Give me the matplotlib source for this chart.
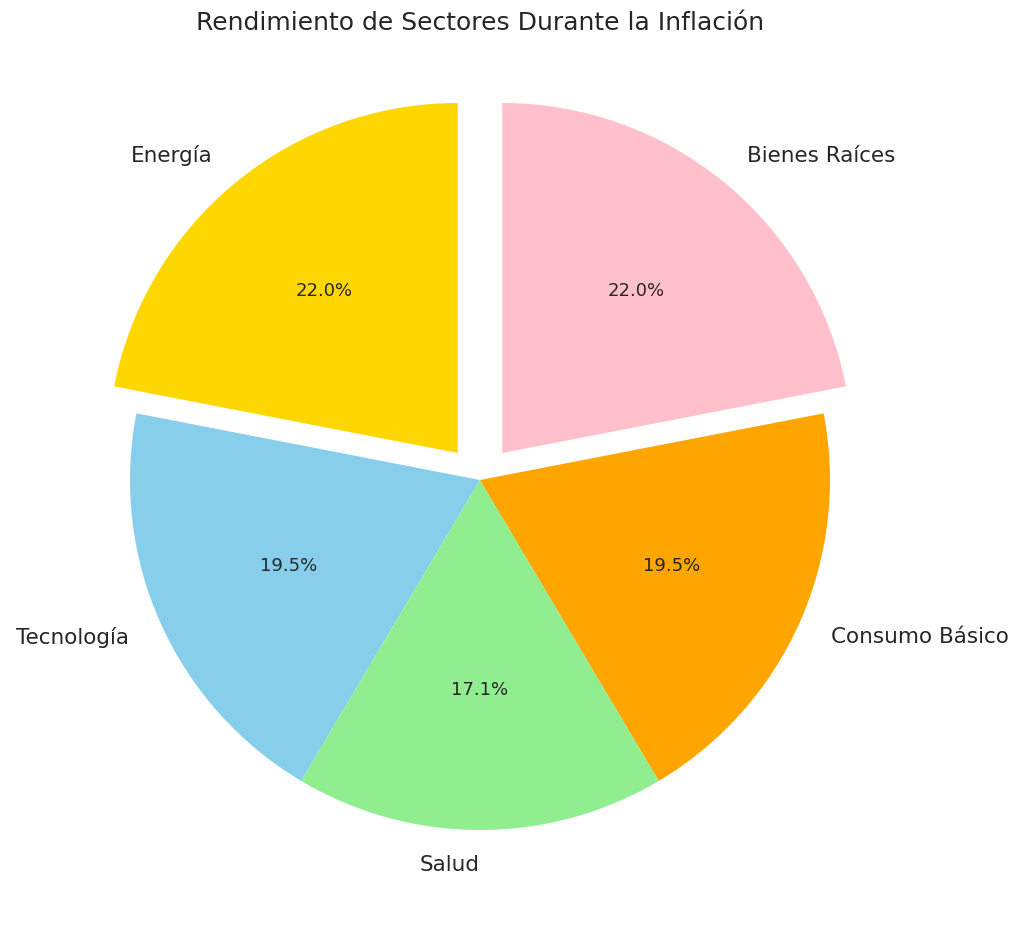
import matplotlib
matplotlib.use('Agg')
import matplotlib.pyplot as plt

sectors = ['Energía', 'Tecnología', 'Salud', 'Consumo Básico', 'Bienes Raíces']
values = [9, 8, 7, 8, 9]
colors = ['gold', 'skyblue', 'lightgreen', 'orange', 'pink']
explode = [0.1, 0, 0, 0, 0.1]

txt = '#262626'
scale = 350.0  # pixels per unit of pie radius
cx, cy = 480.0, 480.0  # pie centre in pixels (from top-left)
W, H = 1024, 932

fig = plt.figure(figsize=(W / 100, H / 100), dpi=100)
ax = fig.add_axes([0, 0, 1, 1])
wedges, labels, pcts = ax.pie(values, labels=sectors, colors=colors, explode=explode,
                              autopct='%1.1f%%', startangle=90,
                              textprops={'fontsize': 15.5, 'color': txt})
for t in pcts:
    t.set_fontsize(13)
# Salud sits right at the bottom; reference has it right-aligned
labels[2].set_ha('right')
ax.set_xlim(-cx / scale, (W - cx) / scale)
ax.set_ylim(-(H - cy) / scale, cy / scale)
ax.axis('off')
fig.text(cx / W, 1 - 23 / H, 'Rendimiento de Sectores Durante la Inflación',
         ha='center', va='center', fontsize=18, color=txt)
fig.savefig('out.png', dpi=100)
